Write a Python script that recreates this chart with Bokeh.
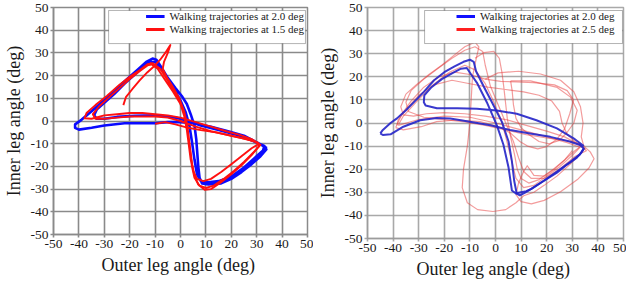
from bokeh.plotting import figure
from bokeh.models import Range1d, FixedTicker, Legend, LegendItem, BoxAnnotation
from bokeh.layouts import row
from bokeh.embed import file_html
from bokeh.resources import INLINE

# ---------------- data ----------------
TICKS = [-50, -40, -30, -20, -10, 0, 10, 20, 30, 40, 50]
TICK_LABELS = ["-50", "-40", "-30", "-20", "-10", "0", "10", "20", "30", "40", "50"]

X_LABEL = "Outer leg  angle (deg)"
Y_LABEL = "Inner leg angle (deg)"
LABEL_BLUE = "Walking trajectories at 2.0 deg"
LABEL_RED_L = "Walking trajectories at 1.5 deg"
LABEL_RED_R = "Walking trajectories at 2.5 deg"

# Left panel, blue (2.0 deg)
L_BLUE_X = [34, 31, 25, 18, 12, 5, 0, -5, -10, -15, -22, -30, -35, -40, -41.5, -41.5, -39, -35, -30, -25,
            -20, -16, -13.5, -11, -9.5, -8, -5, -2, 0.5, 2.5, 4, 5.5, 6.2, 6.6, 7, 7.5, 8.5, 11, 16, 20,
            24, 28, 31.5, 33.8, 33, 28, 22, 15, 8, 3, -2, -10, -18, -25, -30, -33, -34, -33, -30, -26,
            -22, -18, -14, -12, -10, -7, -3, 0, 2, 3.5, 4.5, 5.5, 6.5, 8, 11, 15, 20, 25, 29, 32.5, 33]
L_BLUE_Y = [-12, -10, -6.5, -4.3, -2.5, -1, -0.5, -0.5, -1, -1, -1, -2, -3, -3.8, -3, -1.5, 0.5, 4.3, 9.3, 14.5,
            19.5, 23.5, 26, 27.5, 27, 24.5, 19, 14.5, 11, 7.5, 3, -2, -8, -14, -20, -25, -27.5, -28, -27.5, -25.5,
            -22.5, -19, -15.5, -12.5, -11, -8.5, -6, -4, -2, 0, 1.5, 2.5, 2.3, 1.8, 1, 1, 2.5, 5, 8, 12,
            16.5, 20.5, 24.5, 26, 26, 22, 15, 9, 4, -2, -9, -17, -23.5, -26.5, -27, -26.5, -24.5, -20.5, -16.5, -13, -11]

# Left panel, red (1.5 deg) - first trace
L_RED1_X = [-22.5, -21.5, -19, -16, -13, -10.5, -8, -6, -4, -5, -6.5, -7, -5.5, -3, -0.5, 1.5, 2.7, 3.3, 4,
            4.6, 5.5, 7, 9.5, 12, 16, 20, 24, 28, 31, 30.5, 26, 20, 14, 8, 3, -2, -6, -10]
L_RED1_Y = [7, 10.5, 14, 18, 21.5, 24, 27, 30, 33.5, 30, 26, 23, 19.5, 15, 10, 4, -2, -8, -14,
            -19, -24, -28, -30.3, -30, -27, -23.5, -19.5, -15, -11, -9.5, -8, -6.5, -5, -4, -3, -1.5, -0.5, -1.2]

# Left panel, red (1.5 deg) - second trace
L_RED2_X = [-12, -9, -6, -3, 0, 1.5, 2.5, 3.2, 4, 5, 6.5, 9, 12, 16, 20, 24, 28, 31, 28, 23, 18, 12, 6, 0,
            -5, -10, -15, -20, -25, -30, -35, -37.8, -37, -33.5, -29, -24, -20, -16, -13, -11, -8, -5, -2,
            0.5, 2, 3, 3.8, 4.5, 5.5, 7.5, 10, 13, 17, 21, 25, 29, 31.5, 29, 24, 18, 12, 6, 0, -5, -10,
            -15, -20, -25, -30, -33.5, -34.5, -32, -28, -24, -20, -16, -13, -11]
L_RED2_Y = [25.5, 23, 18, 13, 7.5, 2, -4, -10, -17, -22, -25.5, -26.5, -25.5, -22.5, -19, -15.5, -12, -10, -8, -6, -4.5, -2.5, -0.5, 1.5,
            2.5, 3, 3.5, 3.5, 3, 2.5, 1, 1.2, 3.5, 7, 11, 16, 19.5, 22.5, 25, 25.5, 23, 18, 12.5,
            6, 0, -6, -13, -20, -25, -28.5, -29.5, -28.5, -25.5, -22, -18, -13.5, -10.5, -9, -7.5, -6, -4.5, -2.5, 0, 1.5, 2,
            2, 2, 1.5, 1, 1, 3, 6.5, 10.5, 14.5, 18.5, 22, 24.5, 25]

# Right panel, blue (2.0 deg)
R_BLUE_X = [-45, -44, -41, -38.5, -35, -31, -28, -24, -20, -16, -12.5, -10, -8.5, -7.6, -4.7, -1.4, 2.5, 5.1,
            6.4, 7.3, 8.3, 9.5, 11, 14, 19, 24, 28, 31.8, 33.7, 34.5, 33, 29, 21.4, 13.5, 5.7, -2, -10,
            -17.7, -23, -29.4, -36, -41, -44, -45]
R_BLUE_Y = [-4.5, -3, 0, 2, 5.5, 10, 13.5, 18.5, 22, 24.5, 26.5, 27.4, 26.5, 22.4, 16, 9, 0.5, -8,
            -16.5, -25, -30.6, -31.3, -30.5, -28.5, -25, -21.5, -18, -15, -12.5, -11, -9.5, -8, -6, -4.5, -3, -1, 0.5,
            1.9, 2.2, 1.2, -1.6, -4.9, -5.2, -4.5]
R_BLUE2_X = [34.5, 31, 24, 16, 8.3, 0.5, -7.3, -15, -22.9, -27.3, -28, -27.8, -25, -21, -17, -13.5, -11.2,
             -9.5, -7.3, -3.4, 0.5, 3.1, 5.1, 6.4, 8, 10, 12, 14, 18.8, 24, 29, 33, 34.5]
R_BLUE2_Y = [-10, -7, -2.3, 1.2, 4, 5.4, 6.2, 6.4, 6.4, 7.6, 9, 12, 15.5, 19, 21.5, 23.5, 23.8,
             21, 17.5, 9, -0.9, -9.4, -19.3, -29.2, -30.5, -30, -29.5, -28.5, -25, -21, -17, -13.6, -11]

# Right panel, red (2.5 deg) - several faint traces
R_RED1_X = [-35, -31, -26, -21, -16, -12, -8, -6.5, -7.5, -9, -9.5, -10, -11, -12.5, -13, -11, -7, -1, 4, 8,
            11, 15, 19, 24, 29, 33, 35, 32, 27, 20, 12, 4, -4, -12, -20, -27, -32, -36, -37, -35]
R_RED1_Y = [12.5, 16.5, 21, 25, 29.5, 33, 35, 33, 28, 20, 10, 0, -10, -20, -28, -34.5, -37.5, -38.3, -37.5, -34.5,
            -31.5, -30, -27, -23, -18, -13.5, -11, -9, -6, -3.5, -1, 1.5, 3, 4, 4.5, 4, 3, 3.5, 7, 12.5]
R_RED2_X = [-39, -36, -29, -23, -15, -6, 1, 6, 9.5, 12.5, 16.5, 20, 24, 27, 29, 30.5, 28, 23, 15, 8, 2,
            -4, -10, -16, -22, -28, -33, -36.5, -39]
R_RED2_Y = [-2, -3, -1.6, 0.6, 1.3, 0.6, -1.5, -4.5, -8, -10, -11.2, -10.2, -7, -2.5, 4, 10, 14, 16.5, 17.5, 17.8, 18,
            19, 21, 22, 20, 15.5, 9.5, 4, -2]
R_RED3_X = [-8, -4.5, -0.7, 1.5, 2.5, 3.3, 4, 4.6, 5.9, 7.5, 8.5, 10, 13, 17, 22, 27, 31, 33.5, 31, 28, 26,
            25, 22, 17, 11, 4, -3, -10, -17, -24, -30, -34, -38, -38.5]
R_RED3_Y = [28, 30.5, 31, 28, 22, 15, 8, 2, -6, -14, -20, -24, -26, -24.5, -20.5, -16, -12, -10, -8, -5, 0,
            5, 9.5, 12, 13.5, 14.5, 15.5, 17, 18.5, 16.5, 12, 7, 1.5, -1]
R_RED4_X = [-4, 1, 9, 17.6, 25.4, 30.6, 33.2, 34.2, 33.5, 34.5, 37, 38.5, 36.5, 32, 25.4, 19, 14, 10, 8, 9,
            11, 12.4, 15, 19, 23, 27, 30]
R_RED4_Y = [19, 21.7, 22.4, 21.2, 18.5, 13.5, 7, 0, -6, -10, -12.5, -15.5, -19.5, -24.5, -29.8, -33.5, -35, -34, -31, -26,
            -21, -18.5, -22.7, -23, -20, -16, -12]
R_RED5_X = [5.9, 13.7, 24.1, 29.3, 31.9, 30.6, 28, 25, 21, 17, 13, 10, 8, 7, 6.5, 5.9]
R_RED5_Y = [18.2, 18.2, 15.4, 11.2, 5.5, 0, -4, -7.5, -9, -8, -5, -2, 2, 8, 14, 18.2]
R_RED6_X = [-38, -30, -20, -10, 0, 10, 20, 28, 33, 30, 25, 20, 15, 11, 8, 6, 4, 2, -1, -4, -8, -12, -18,
            -25, -31, -36, -38]
R_RED6_Y = [-1, 1.5, 3, 2.5, 0, -3, -6, -8.5, -10.5, -14, -19, -23, -27, -28, -24, -15, -6, 2, 10, 17, 23, 25, 22,
            16, 9, 3, -1]
R_RED7_X = [-33, -28, -22, -17, -12, -8, -5, -4, -2, 1, 4, 7, 9, 11, 14, 19, 25, 31, 35.5, 33, 27, 20, 12,
            4, -4, -12, -20, -28, -34, -35, -33]
R_RED7_Y = [14, 19, 24, 28, 31.5, 33, 31, 25, 16, 8, 0, -8, -15, -21, -24, -24, -20, -14.5, -12, -9, -7.5, -6.5, -5,
            -3, -1, 0.5, 1.5, 2.5, 5, 9, 14]

# ---------------- styling / layout ----------------
SERIF = "Liberation Serif"
OVERRIDES = dict(zip(TICKS, TICK_LABELS))
NAN = float("nan")


def make_fig(fw, fh, bl, bt, br, bb, grid_color, grid_alpha):
    p = figure(x_range=Range1d(-50, 50), y_range=Range1d(-50, 50),
               frame_width=fw, frame_height=fh,
               min_border_left=bl, min_border_top=bt, min_border_right=br, min_border_bottom=bb,
               output_backend="svg", toolbar_location=None)
    p.background_fill_color = "white"
    p.border_fill_color = "white"
    p.outline_line_color = grid_color
    p.outline_line_width = 1.5
    p.outline_line_alpha = grid_alpha
    for g in (p.xgrid, p.ygrid):
        g.ticker = FixedTicker(ticks=TICKS)
        g.grid_line_color = grid_color
        g.grid_line_width = 1.6
        g.grid_line_alpha = grid_alpha
    for ax in (p.xaxis[0], p.yaxis[0]):
        ax.ticker = FixedTicker(ticks=TICKS)
        ax.major_label_overrides = OVERRIDES
        ax.major_label_text_font = SERIF
        ax.major_label_text_font_size = "13.5px"
        ax.major_label_text_color = "#1a1a1a"
        ax.major_label_standoff = 2
        ax.axis_label_text_font = SERIF
        ax.axis_label_text_font_size = "18px"
        ax.axis_label_text_font_style = "normal"
        ax.axis_label_text_color = "#1a1a1a"
        ax.axis_label_standoff = 4
        ax.axis_line_color = grid_color
        ax.axis_line_width = 1.6
        ax.axis_line_alpha = grid_alpha
        ax.major_tick_line_color = grid_color
        ax.major_tick_line_width = 1.6
        ax.major_tick_line_alpha = grid_alpha
        ax.major_tick_in = 0
        ax.major_tick_out = 3
        ax.minor_tick_line_color = None
    p.xaxis.axis_label = X_LABEL
    p.yaxis.axis_label = Y_LABEL
    return p


def add_legend(p, labels, colors, box, label_w):
    bx0, bx1, by0, by1 = box
    p.add_layout(BoxAnnotation(left=bx0, right=bx1, bottom=by0, top=by1,
                               fill_color="white", fill_alpha=1.0,
                               line_color="black", line_width=1, level="annotation"))
    items = []
    for lab, col in zip(labels, colors):
        r = p.line(x=[NAN], y=[NAN], line_color=col, line_width=3)
        items.append(LegendItem(label=lab, renderers=[r]))
    leg = Legend(items=items, location="top_right", level="overlay",
                 background_fill_alpha=0, border_line_color=None,
                 label_text_font=SERIF, label_text_font_size="11px", label_text_color="#1a1a1a",
                 glyph_width=19, glyph_height=12, label_height=12, label_width=label_w,
                 label_standoff=5, spacing=1, padding=4, margin=3)
    p.add_layout(leg)


# Left panel
p1 = make_fig(254, 227, 50, 7, 6, 43, "#8a8a8a", 1.0)
p1.line(L_BLUE_X, L_BLUE_Y, line_color="#0a0aff", line_width=2.6, line_join="round")
p1.line(L_RED1_X, L_RED1_Y, line_color="#ff1010", line_width=1.9, line_join="round")
p1.line(L_RED2_X, L_RED2_Y, line_color="#ff1010", line_width=1.9, line_join="round")
add_legend(p1, [LABEL_BLUE, LABEL_RED_L], ["#0a0aff", "#ff1010"],
           (-28.3, 49.2, 34.1, 48.7), 132)

# Right panel
p2 = make_fig(256, 231, 54, 7, 3, 39, "#9a9a9a", 0.85)
for xs, ys in ((R_RED1_X, R_RED1_Y), (R_RED2_X, R_RED2_Y), (R_RED3_X, R_RED3_Y),
               (R_RED4_X, R_RED4_Y), (R_RED5_X, R_RED5_Y), (R_RED6_X, R_RED6_Y),
               (R_RED7_X, R_RED7_Y)):
    p2.line(xs, ys, line_color="#e83a3a", line_width=1.2, line_alpha=0.5, line_join="round")
p2.line(R_BLUE_X, R_BLUE_Y, line_color="#2424c8", line_width=2.0, line_alpha=0.9, line_join="round")
p2.line(R_BLUE2_X, R_BLUE2_Y, line_color="#2424c8", line_width=2.0, line_alpha=0.9, line_join="round")
add_legend(p2, [LABEL_BLUE, LABEL_RED_R], ["#1010ff", "#ff2020"],
           (-27.7, 49.6, 34.4, 48.7), 140)

layout = row(p1, p2)
open("out.html", "w").write(file_html(layout, INLINE))
